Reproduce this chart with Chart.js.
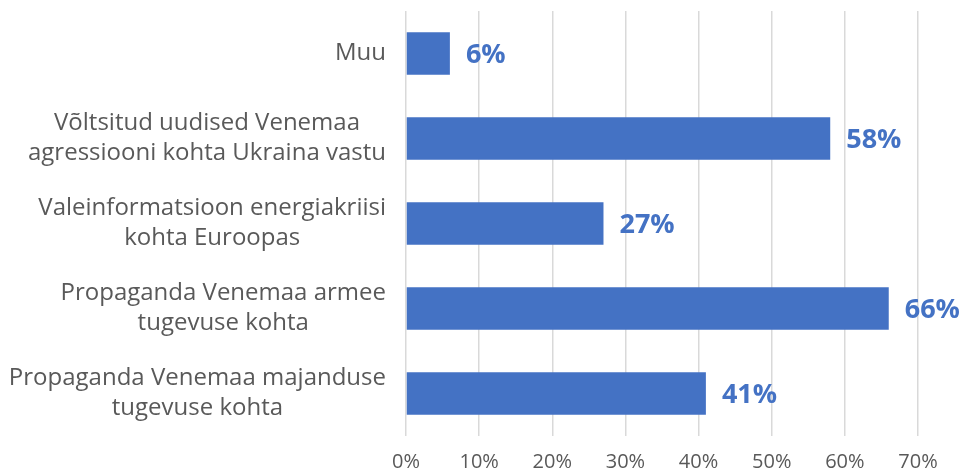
<!DOCTYPE html>
<html>
<head>
<meta charset="utf-8">
<script src="https://cdn.jsdelivr.net/npm/chart.js@4"></script>
<style>
  html, body { margin: 0; padding: 0; background: #fff; }
  #wrap { width: 973px; height: 476px; }
</style>
</head>
<body>
<div id="wrap"><canvas id="chart"></canvas></div>
<script>
// categories (top to bottom) and shares in percent
const categories = [
    ['Muu'],
    ['Võltsitud uudised Venemaa', 'agressiooni kohta Ukraina vastu'],
    ['Valeinformatsioon energiakriisi', 'kohta Euroopas'],
    ['Propaganda Venemaa armee', 'tugevuse kohta'],
    ['Propaganda Venemaa majanduse', 'tugevuse kohta']
];
const shares = [6, 58, 27, 66, 41];
const xTicks = [0, 10, 20, 30, 40, 50, 60, 70];

const barBlue = '#4472C4';
const textGrey = '#595959';

// draws the bold percent labels next to each bar
const valueLabels = {
    id: 'valueLabels',
    afterDatasetsDraw(chart) {
        const ctx = chart.ctx;
        const meta = chart.getDatasetMeta(0);
        ctx.save();
        ctx.font = 'bold 27px "Open Sans"';
        ctx.fillStyle = barBlue;
        ctx.textAlign = 'left';
        ctx.textBaseline = 'middle';
        meta.data.forEach((bar, i) => {
            ctx.fillText(shares[i] + '%', bar.x + 16, bar.y + 2);
        });
        ctx.restore();
    }
};

// category labels: block right aligned to the axis, lines centred inside it
const categoryLabels = {
    id: 'categoryLabels',
    afterDraw(chart) {
        const ctx = chart.ctx;
        const yScale = chart.scales.y;
        const right = chart.chartArea.left - 20;
        const lineH = 30;
        ctx.save();
        ctx.font = '24px "Open Sans"';
        ctx.fillStyle = textGrey;
        ctx.textAlign = 'center';
        ctx.textBaseline = 'middle';
        categories.forEach((lines, i) => {
            const y = yScale.getPixelForTick(i);
            const maxW = Math.max(...lines.map(l => ctx.measureText(l).width));
            const cx = right - maxW / 2;
            const top = y - (lines.length - 1) * lineH / 2;
            lines.forEach((l, j) => ctx.fillText(l, cx, top + j * lineH));
        });
        ctx.restore();
    }
};

const ctx = document.getElementById('chart').getContext('2d');
new Chart(ctx, {
    type: 'bar',
    data: {
        labels: categories,
        datasets: [{
            data: shares,
            backgroundColor: barBlue,
            borderWidth: 0,
            categoryPercentage: 0.5,
            barPercentage: 1
        }]
    },
    options: {
        indexAxis: 'y',
        responsive: true,
        maintainAspectRatio: false,
        animation: false,
        layout: { padding: { top: 11, right: 55, left: 0, bottom: 0 } },
        plugins: {
            legend: { display: false },
            tooltip: { enabled: false }
        },
        scales: {
            x: {
                min: 0,
                max: 70,
                afterBuildTicks: (scale) => {
                    scale.ticks = xTicks.map(v => ({ value: v }));
                },
                afterFit: (scale) => { scale.height = 40; },
                grid: { color: '#d9d9d9', lineWidth: 1.5, drawTicks: false },
                border: { display: false },
                ticks: {
                    color: textGrey,
                    font: { family: 'Open Sans', size: 20 },
                    padding: 14,
                    callback: (v) => v + '%'
                }
            },
            y: {
                afterFit: (scale) => {
                    scale.width = 406;
                    scale.paddingTop = 0;
                    scale.paddingBottom = 0;
                },
                grid: { display: false, drawTicks: false },
                border: { display: false },
                ticks: { display: false }
            }
        }
    },
    plugins: [valueLabels, categoryLabels]
});
</script>
</body>
</html>
